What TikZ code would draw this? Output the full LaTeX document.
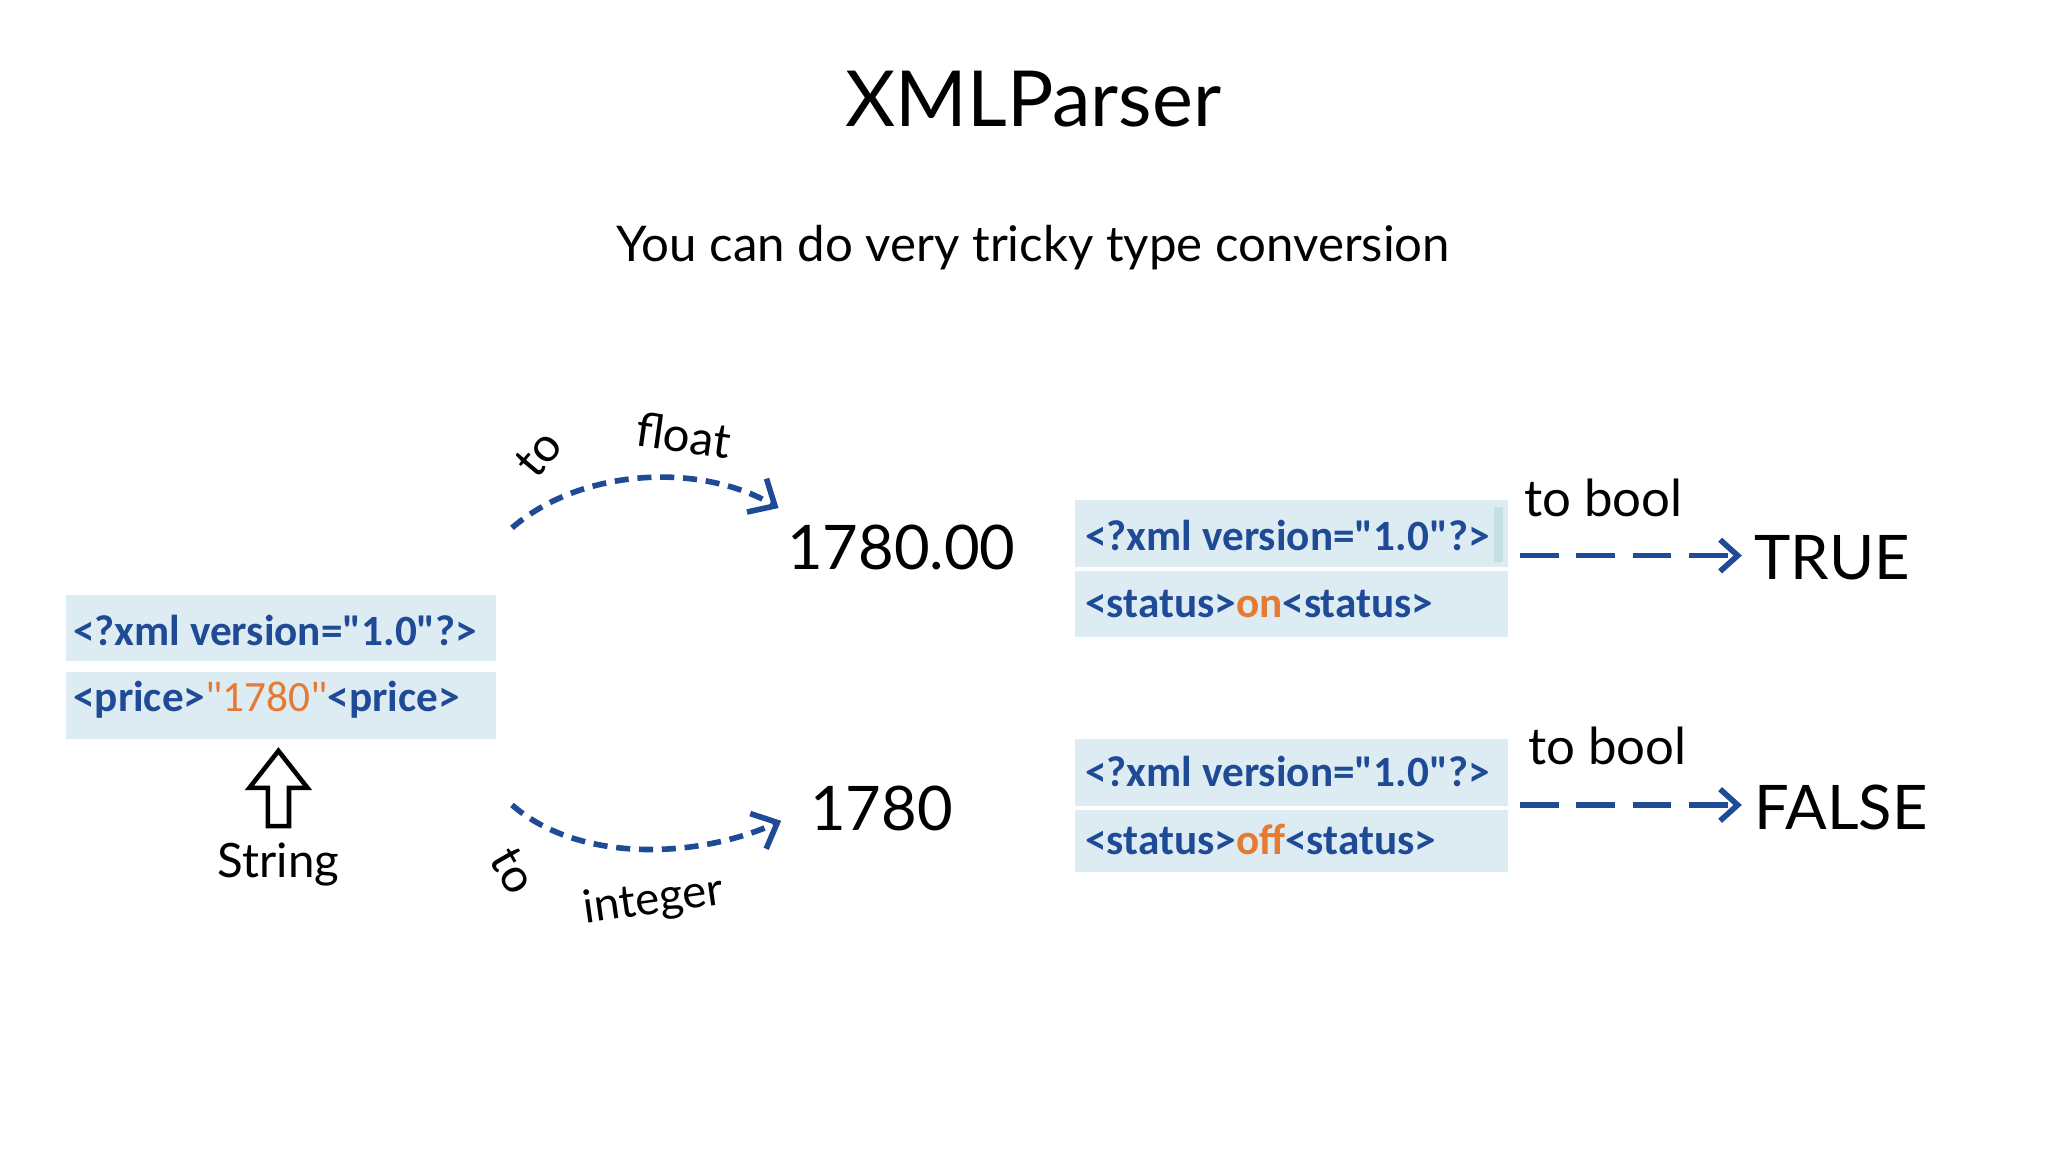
\documentclass[tikz,border=0pt]{standalone}
\usepackage{fontspec}
\setmainfont{Lato}
\newfontfamily\codefont{Carlito}
\usetikzlibrary{arrows.meta}
\definecolor{cblue}{HTML}{1F4A96}
\definecolor{cbox}{HTML}{DDEBF3}
\definecolor{corange}{HTML}{E57A33}
\tikzset{
  code/.style={fill=cbox,text=cblue,font=\codefont\bfseries\fontsize{12.3}{15}\selectfont,anchor=west,inner sep=0pt},
  crow/.style={fill=cbox,draw=none},
  curvy/.style={cblue,line width=1.6pt,dash pattern=on 4pt off 2.5pt,-{Straight Barb[length=6pt,width=11pt,line width=1.6pt]}},
  dasharr/.style={cblue,line width=1.6pt,dash pattern=on 11pt off 5pt,-{Straight Barb[length=5pt,width=9pt,line width=1.6pt]}},
  big/.style={font=\fontsize{17.5}{21}\selectfont},
  lbl/.style={font=\fontsize{13.5}{16}\selectfont},
}
\begin{document}
\begin{tikzpicture}[x=0.0132cm,y=-0.0132cm]
\useasboundingbox (0,0) rectangle (1552,873);
\node (title) at (783,75) {\fontsize{22}{26}\selectfont XMLParser};
\node (sub) at (783,188) {\fontsize{14}{17}\selectfont You can do very tricky type conversion};
% left box
\fill[crow] (50,451) rectangle (376,501);
\fill[crow] (50,509) rectangle (376,560);
\node[code] (l1) at (55,478) {<?xml version="1.0"?>};
\node[code] (l2) at (55,530) {<price>\textcolor{corange}{\mdseries "1780"}<price>};
% up arrow
\draw[line width=1.3pt,line join=miter] (203,626) -- (203,597) -- (189,597) -- (211,569) -- (233,597) -- (219,597) -- (219,626) -- cycle;
\node[lbl] (str) at (211,655) {String};
% curves
\coordinate (s1) at (388,400);
\coordinate (e1) at (590,385);
\draw[curvy] (s1) .. controls (440,355) and (530,350) .. (e1);
\coordinate (s2) at (388,610);
\coordinate (e2) at (592,622);
\draw[curvy] (s2) .. controls (440,655) and (530,650) .. (e2);
\node[lbl,rotate=50] (to1) at (408,344) {to};
\node[lbl,rotate=-8] (fl) at (518,330) {float};
\node[lbl,rotate=-60] (to2) at (389,660) {to};
\node[lbl,font=\fontsize{13}{16}\selectfont,rotate=8] (int) at (495,683) {integer};
\node[big] (v1) at (683,415) {1780.00};
\node[big] (v2) at (668,613) {1780};
% right boxes
\fill[crow] (815,379) rectangle (1143,430);
\fill[crow] (815,433) rectangle (1143,483);
\fill[crow] (815,560) rectangle (1143,611);
\fill[crow] (815,614) rectangle (1143,661);
\fill[cbox!70!teal!60] (1132,384) rectangle (1139,426);
\node[code] (r1) at (822,406) {<?xml version="1.0"?>};
\node[code] (r2) at (822,458) {<status>\textcolor{corange}{on}<status>};
\node[code] (r3) at (822,585) {<?xml version="1.0"?>};
\node[code] (r4) at (822,636) {<status>\textcolor{corange}{off}<status>};
\node[font=\fontsize{14.5}{17}\selectfont] (tb1) at (1215,377) {to bool};
\node[font=\fontsize{14.5}{17}\selectfont] (tb2) at (1218,565) {to bool};
\node[big,anchor=west] (tr) at (1320,423) {TRUE};
\node[big,anchor=west] (fa) at (1320,612) {FALSE};
\coordinate (a1) at (1152,421);
\coordinate (a2) at (1152,610);
\draw[dasharr] (a1) -- (tr.west|-a1);
\draw[dasharr] (a2) -- (fa.west|-a2);
\end{tikzpicture}
\end{document}
